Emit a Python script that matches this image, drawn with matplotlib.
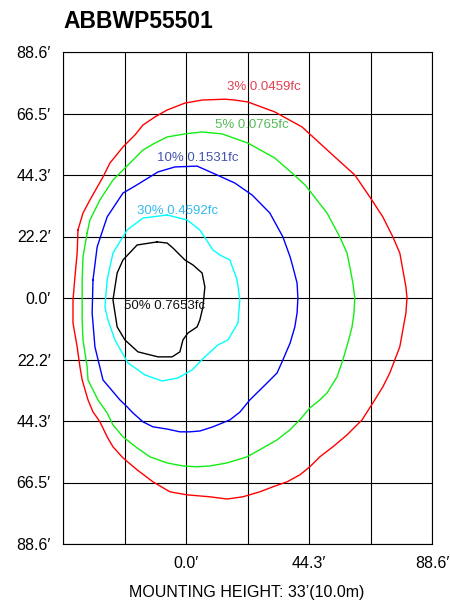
import numpy as np
import matplotlib
matplotlib.use("Agg")
import matplotlib.pyplot as plt

plt.rcParams['font.family'] = ['Liberation Sans', 'DejaVu Sans']

# grid / tick positions (feet)
x_grid = [-44.3, -22.15, 0.0, 22.15, 44.3, 66.45, 88.6]
x_labels = ["", "", "0.0\u2032", "", "44.3\u2032", "", "88.6\u2032"]
y_grid = [-88.6, -66.45, -44.3, -22.15, 0.0, 22.15, 44.3, 66.45, 88.6]
y_labels = ["88.6\u2032", "66.5\u2032", "44.3\u2032", "22.2\u2032", "0.0\u2032",
            "22.2\u2032", "44.3\u2032", "66.5\u2032", "88.6\u2032"]

# iso-footcandle contours, (x, y) in feet
red_x = [-38.9, -37.1, -34.6, -29.9, -27.4, -22.7, -18.4, -15.5, -11.2, -6.8, -0.4, 5.8,
         14.0, 17.6, 22.3, 32.0, 41.8, 53.6, 60.8, 66.2, 70.9, 74.5, 77.0, 78.1, 79.2,
         79.6, 79.2, 78.1, 77.0, 75.2, 73.4, 70.9, 67.3, 63.4, 58.0, 52.9, 48.2,
         44.6, 41.0, 36.4, 31.3, 26.6, 20.5, 14.8, 8.6, 0.4, -5.8, -11.9, -17.6, -22.7,
         -26.3, -28.4, -31.0, -33.5, -35.3, -37.4, -38.2, -39.2, -40.7, -40.7, -40.0,
         -39.2]
red_y = [24.5, 30.6, 35.3, 43.6, 48.6, 54.4, 58.7, 62.3, 65.2, 67.7, 70.2, 71.3,
         71.6, 71.3, 70.6, 67.0, 61.6, 50.8, 44.3, 36.4, 29.2, 22.0, 16.2, 10.1, 4.0,
         0.0, -5.4, -11.5, -17.6, -22.3, -27.0, -32.0, -37.8, -43.9, -49.3, -53.6,
         -57.2, -60.8, -63.7, -66.2, -68.0, -69.8, -71.6, -72.4, -71.6, -70.9, -69.8,
         -66.2, -61.9, -57.6, -53.6, -50.0, -44.6, -41.0, -36.7, -29.5, -24.8, -17.6,
         -9.0, -0.7, 7.6, 16.2]

green_x = [-35.6, -34.6, -31.0, -26.3, -22.7, -18.4, -15.5, -11.2, -6.8, -0.4, 5.8, 13.0,
           22.3, 32.0, 38.2, 42.9, 50.8, 55.4, 58.0, 59.0, 60.1, 60.8, 60.5, 59.8, 58.3,
           56.5, 54.4, 50.8, 48.2, 44.6, 41.0, 37.4, 32.8, 27.7, 22.0, 14.8, 8.6, 4.0,
           -1.1, -6.8, -13.0, -17.6, -22.7, -26.3, -28.4, -31.7, -35.3, -35.6, -37.1,
           -37.4, -37.4, -37.4, -37.1]
green_y = [23.4, 28.1, 35.3, 42.5, 46.1, 50.4, 53.3, 55.8, 58.0, 59.1, 59.8, 59.1,
           55.8, 50.4, 45.0, 40.7, 30.6, 22.0, 16.2, 11.2, 5.4, 0.0, -5.4, -10.4, -16.2,
           -22.3, -28.4, -34.2, -36.7, -39.6, -43.9, -47.5, -51.1, -54.0, -57.2, -59.4,
           -60.5, -60.8, -60.5, -59.4, -57.2, -54.0, -50.0, -45.7, -41.4, -36.7, -29.5,
           -24.8, -15.1, -7.9, -0.7, 6.5, 14.8]

blue_x = [-33.5, -32.0, -28.4, -22.7, -18.4, -10.1, -4.0, 4.0, 11.2, 17.6, 23.8, 30.2,
          34.9, 37.5, 38.5, 40.0, 40.3, 40.0, 39.2, 37.5, 34.9, 32.8, 29.2, 23.0, 19.4,
          15.8, 9.7, 5.0, 1.4, -2.2, -6.8, -11.9, -15.5, -19.1, -21.2, -23.8, -29.9,
          -32.8, -33.8]
blue_y = [6.5, 18.4, 29.2, 37.8, 40.3, 45.4, 47.2, 47.5, 44.3, 41.4, 37.1, 30.6,
          22.0, 14.8, 11.2, 5.4, 0.0, -5.4, -10.4, -16.2, -22.3, -27.0, -30.6, -36.7,
          -41.1, -43.9, -46.4, -47.9, -48.2, -48.2, -47.2, -46.4, -44.6, -41.4, -39.2,
          -36.7, -29.5, -17.6, -5.4]

cyan_x = [-6.8, 0.4, 5.0, 9.7, 12.2, 15.8, 18.4, 19.4, 18.7, 15.1, 11.5, 6.8, 2.2, -2.9,
          -8.6, -14.8, -20.9, -25.6, -28.1, -29.2, -28.4, -26.3, -21.2, -15.5]
cyan_y = [29.9, 28.1, 24.5, 17.3, 15.5, 13.7, 6.5, -0.7, -9.0, -15.1, -16.9, -21.2, -25.9,
          -28.8, -29.9, -27.7, -23.4, -15.1, -7.9, -3.2, 6.5, 16.2, 24.5, 28.8]

black_x = [-10.4, -6.8, -4.7, -0.4, 2.5, 5.8, 6.8, 6.1, 5.0, 4.0, 0.7, -1.1, -2.2, -5.0,
           -10.1, -17.3, -22.0, -24.8, -26.3, -24.8, -22.7, -17.6]
black_y = [20.2, 19.8, 18.0, 13.7, 11.9, 9.0, 4.0, -3.2, -7.9, -10.4, -12.6, -15.1, -19.4,
           -21.2, -21.2, -19.4, -15.1, -10.4, -0.7, 9.0, 13.7, 19.1]

contours = [
    (red_x, red_y, "#ff0000", "3% 0.0459fc", "#e04050", (14.8, 76.0)),
    (green_x, green_y, "#11ee11", "5% 0.0765fc", "#55bb55", (10.4, 62.3)),
    (blue_x, blue_y, "#0000ff", "10% 0.1531fc", "#4455aa", (-10.4, 50.4)),
    (cyan_x, cyan_y, "#00ffff", "30% 0.4592fc", "#33bbee", (-17.6, 31.3)),
    (black_x, black_y, "#000000", "50% 0.7653fc", "#111111", (-22.3, -2.9)),
]

fig = plt.figure(figsize=(4.5, 6.02), dpi=100)
ax = fig.add_axes([63/450, 58/602, 369/450, 492/602])

for gx in x_grid:
    ax.axvline(gx, color="black", lw=0.8, zorder=1)
for gy in y_grid:
    ax.axhline(gy, color="black", lw=0.8, zorder=1)

for xs, ys, col, lab, lcol, pos in contours:
    ax.plot(xs + xs[:1], ys + ys[:1], color=col, lw=1.0, zorder=2)
    ax.text(pos[0], pos[1], lab, color=lcol, fontsize=9.5, ha="left", va="center", zorder=3)

ax.set_xlim(-44.3, 88.6)
ax.set_ylim(-88.6, 88.6)
ax.set_xticks(x_grid)
ax.set_xticklabels(x_labels, fontsize=11.5)
ax.set_yticks(y_grid)
ax.set_yticklabels(y_labels, fontsize=11.5)
ax.tick_params(length=0, pad=9)
for s in ax.spines.values():
    s.set_linewidth(0.8)

fig.text(63/450, 1 - 21/602, "ABBWP55501", fontsize=16.5, fontweight="bold",
         ha="left", va="center")
fig.text(247/450, 1 - 592/602, "MOUNTING HEIGHT: 33\u2019(10.0m)", fontsize=11.5,
         ha="center", va="center")

fig.savefig("out.png", dpi=100)
